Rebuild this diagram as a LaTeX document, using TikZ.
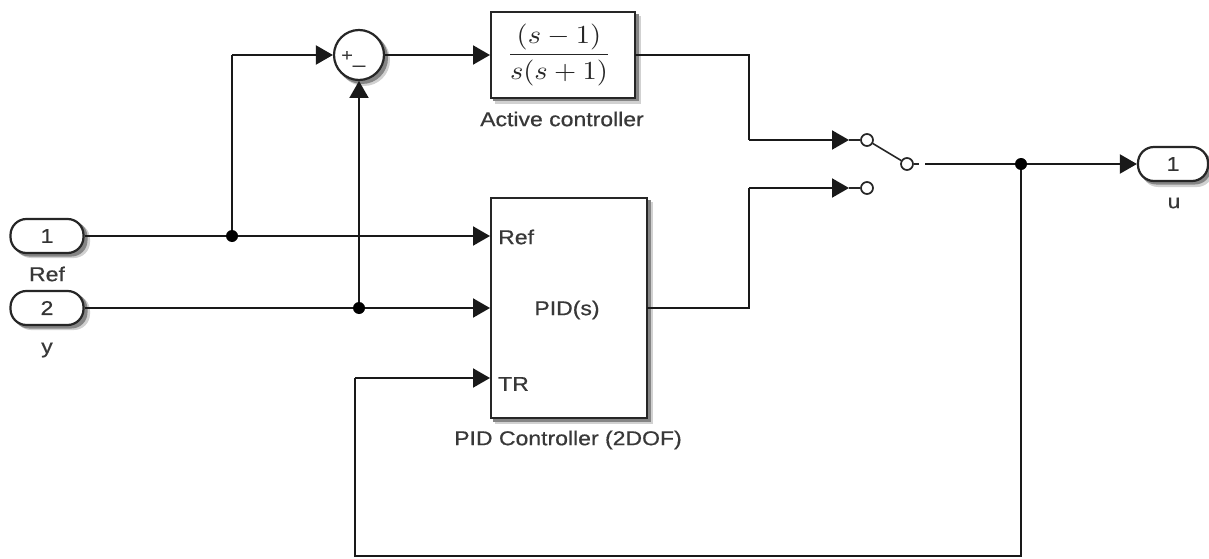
\documentclass[tikz,border=0pt]{standalone}
\usepackage[no-math]{fontspec}
\setmainfont[FakeStretch=1.15,FakeBold=0.6]{Liberation Sans}
\usetikzlibrary{arrows.meta,calc}
\tikzset{
  wire/.style={line width=2pt,draw=black!90},
  thinwire/.style={line width=1.6pt,draw=black!85},
  arr/.style={wire,-{Triangle[length=17pt,width=19pt]}},
  shadowfar/.style={fill=black!18},
  shadownear/.style={fill=black!48},
  block/.style={draw=black!85,line width=2.2pt,fill=white,inner sep=0pt},
  port/.style={block,rounded corners=16pt,minimum width=73pt,minimum height=34pt,font=\fontsize{20}{22}\selectfont,text=black!80},
  lbl/.style={inner sep=0pt,text=black!78},
  txt/.style={lbl,font=\fontsize{20}{22}\selectfont},
  dot/.style={circle,fill=black,minimum size=12pt,inner sep=0pt},
  contact/.style={circle,draw=black!85,line width=1.7pt,fill=white,minimum size=12pt,inner sep=0pt},
}
\begin{document}
\begin{tikzpicture}[x=1pt,y=-1pt]
\fill[white] (0,0) rectangle (1209,559);
\useasboundingbox (0,0) rectangle (1209,559);
% shadows, behind the blocks
\fill[shadowfar,rounded corners=16pt] (15,223) rectangle (90,258);
\fill[shadownear,rounded corners=16pt] (13,221) rectangle (87.5,256.5);
\fill[shadowfar,rounded corners=16pt] (15,295) rectangle (90,330);
\fill[shadownear,rounded corners=16pt] (13,293) rectangle (87.5,328.5);
\fill[shadowfar,rounded corners=16pt] (1142,151) rectangle (1213,187);
\fill[shadownear,rounded corners=16pt] (1140,149) rectangle (1211,184.5);
\fill[shadowfar] (364,60) circle[radius=26];
\fill[shadownear] (362,58) circle[radius=26];
\fill[shadowfar] (495,16) rectangle (641,104);
\fill[shadownear] (493,14) rectangle (638.5,101.5);
\fill[shadowfar] (495,202) rectangle (653,424);
\fill[shadownear] (493,200) rectangle (650.5,421.5);
% ports
\node[port] (in1) at (47,236) {1};
\node[txt] (lref) at (47,274) {Ref};
\node[port] (in2) at (47,308) {2};
\node[txt] (ly) at (47,350) {y};
\node[port,minimum width=70pt] (out) at (1173,164) {1};
\node[txt] (lu) at (1174,203) {u};
% sum
\node[block,circle,minimum size=50pt] (sum) at (359,55) {};
\node[lbl,font=\fontsize{17}{17}\selectfont] (plus) at (347,56) {+};
\node[lbl,font=\fontsize{19}{19}\selectfont] (minus) at (359,65) {\_};
% active controller
\node[block,minimum width=144pt,minimum height=86pt] (tf) at (563,55) {};
\node[lbl,xscale=2.85,yscale=2.6,text=black!85] (frac) at (559,55) {$\displaystyle\frac{(s-1)}{s(s+1)}$};
\node[txt] (lactive) at (562,119) {Active controller};
% PID
\node[block,minimum width=156pt,minimum height=220pt] (pid) at (569,308) {};
\node[txt,anchor=west] (pref) at (498,237) {Ref};
\node[txt,anchor=west] (ptr) at (498,384) {TR};
\node[txt] (pname) at (567,310) {PID(s)};
\node[txt] (lpid) at (568,440) {PID Controller (2DOF)};
% switch
\node[contact] (c1) at (867,140) {};
\node[contact] (c2) at (867,188) {};
\node[contact] (c3) at (907,164) {};
\coordinate (a1) at (849,140);
\coordinate (a2) at (849,188);
\coordinate (s3) at (925,164);
\coordinate (s4) at (919,164);
% junctions
\node[dot] (j1) at (232,236) {};
\node[dot] (j2) at (359,308) {};
\node[dot] (j3) at (1021,164) {};
\coordinate (pidin1) at (490,236);
\coordinate (pidin2) at (490,308);
\coordinate (pidin3) at (490,378);
\coordinate (pidout) at (647,308);
\coordinate (tl) at (232,55);
\coordinate (tfin) at (490,55);
\coordinate (tfout) at (635,55);
\coordinate (k1) at (749,55);
\coordinate (k2) at (749,140);
\coordinate (k3) at (749,308);
\coordinate (k4) at (749,188);
\coordinate (fb1) at (1021,556);
\coordinate (fb2) at (355,556);
\coordinate (fb3) at (355,378);
\coordinate (sumb) at (359,81);
% wires
\draw[wire] (in1.east) -- (j1);
\draw[arr] (j1) -- (pidin1);
\draw[wire] (j1) -- (tl);
\draw[arr] (tl) -- (sum.west);
\draw[wire] (in2.east) -- (j2);
\draw[arr] (j2) -- (pidin2);
\draw[arr] (j2) -- (sumb);
\draw[arr] (sum.east) -- (tfin);
\draw[wire] (tfout) -- (k1) -- (k2);
\draw[arr] (k2) -- (a1);
\draw[wire] (pidout) -- (k3) -- (k4);
\draw[arr] (k4) -- (a2);
\draw[thinwire] (a1) -- (c1);
\draw[thinwire] (a2) -- (c2);
\draw[thinwire] (c1) -- (c3);
\draw[thinwire] (c3) -- (s4);
\draw[wire] (s3) -- (j3);
\draw[arr] (j3) -- (out.west);
\draw[wire] (j3) -- (fb1) -- (fb2) -- (fb3);
\draw[arr] (fb3) -- (pidin3);
\end{tikzpicture}
\end{document}
